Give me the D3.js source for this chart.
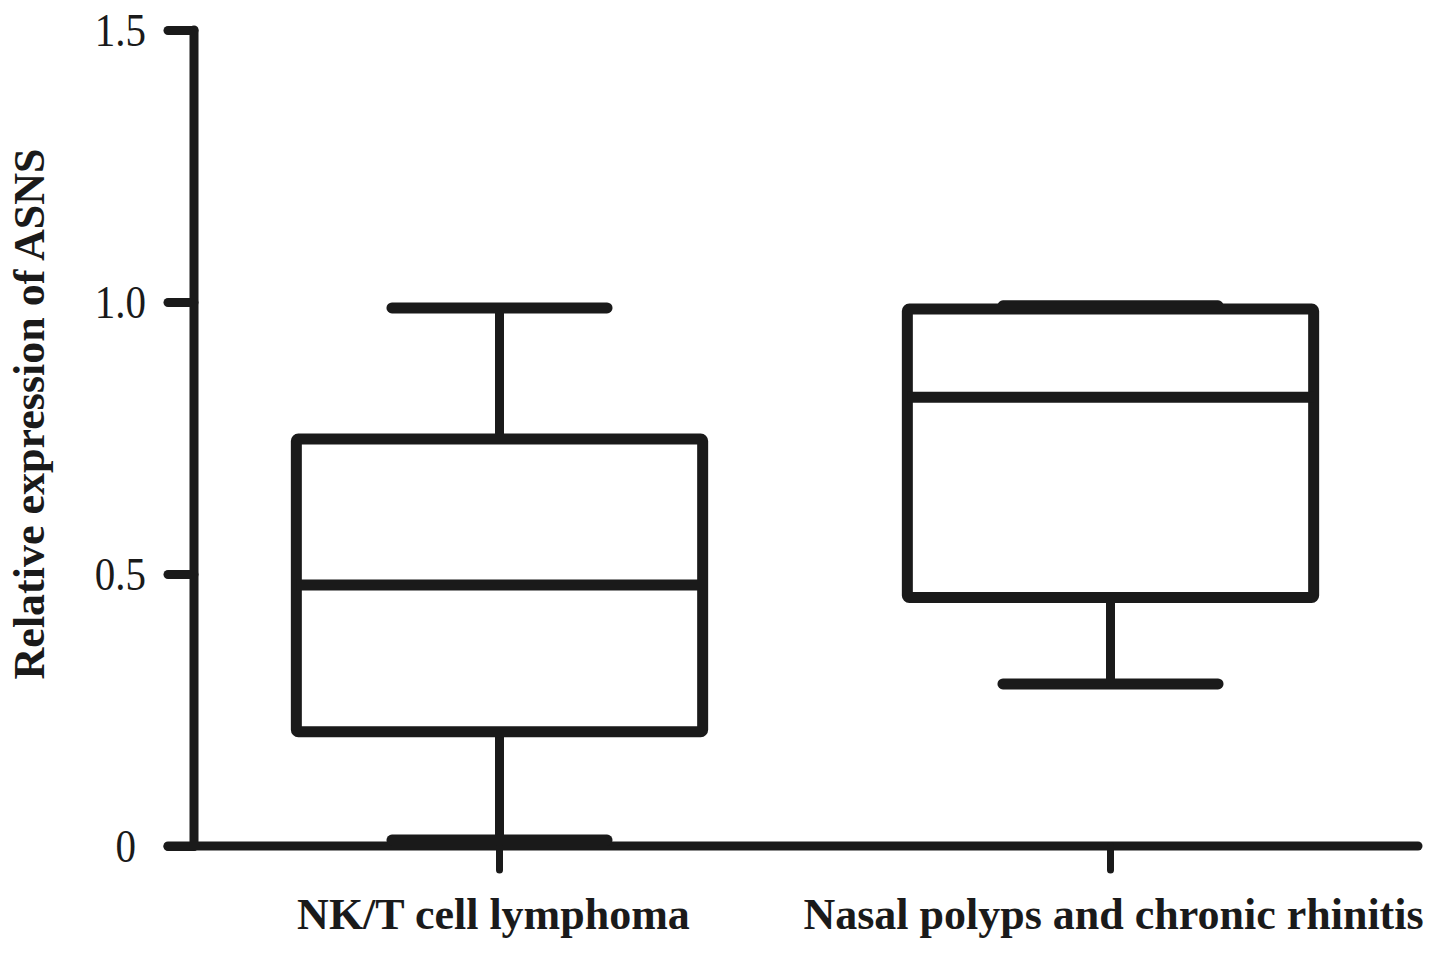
<!DOCTYPE html>
<html><head><meta charset="utf-8">
<script src="https://cdn.jsdelivr.net/npm/d3@7"></script>
<style>body{margin:0;background:#fff}svg{display:block}</style>
</head><body>
<svg id="chart" width="1441" height="953"></svg>
<script>
const categories = ["NK/T cell lymphoma", "Nasal polyps and chronic rhinitis"];
const mins    = [0.011, 0.298];
const q1s     = [0.210, 0.457];
const medians = [0.480, 0.825];
const q3s     = [0.748, 0.987];
const maxs    = [0.989, 0.993];
const yTicks  = [0, 0.5, 1.0, 1.5];
const yTickLabels = ["0", "0.5", "1.0", "1.5"];
const yTitle = "Relative expression of ASNS";

const data = categories.map((c, i) => ({c, min: mins[i], q1: q1s[i], med: medians[i], q3: q3s[i], max: maxs[i]}));

const svg = d3.select("#chart");
const ink = "#1a1a1a";
const axisX = 194, axisY0 = 846, axisTop = 30, axisRight = 1418;

const y = d3.scaleLinear().domain([0, 1.5]).range([axisY0, axisTop]);
const x = d3.scaleBand().domain(categories).range([axisX, 1416]).padding(0);
const bw = x.bandwidth();
const boxW = bw * 0.665;
const capW = bw * 0.352;

// Y axis
const yAxis = d3.axisLeft(y).tickValues(yTicks).tickSize(26).tickFormat((d, i) => yTickLabels[i]).tickPadding(0);
const gy = svg.append("g").attr("transform", `translate(${axisX},0)`).call(yAxis);
gy.select(".domain").remove();
gy.selectAll(".tick line").attr("stroke", ink).attr("stroke-width", 9).attr("stroke-linecap", "round");
gy.selectAll(".tick text").attr("x", d => d === 0 ? -58 : -48).attr("dy", "0.33em").attr("transform", "scale(1,1.13)")
  .attr("font-family", "'Liberation Serif', 'Times New Roman', serif").attr("font-size", 41).attr("fill", ink);
svg.append("line").attr("x1", axisX).attr("x2", axisX).attr("y1", y(1.5)).attr("y2", axisY0)
  .attr("stroke", ink).attr("stroke-width", 9).attr("stroke-linecap", "round");

// X axis
svg.append("line").attr("x1", axisX - 26).attr("x2", axisRight).attr("y1", axisY0).attr("y2", axisY0)
  .attr("stroke", ink).attr("stroke-width", 9).attr("stroke-linecap", "round");
const xAxis = d3.axisBottom(x).tickSize(24).tickPadding(0).tickFormat("");
const gx = svg.append("g").attr("transform", `translate(0,${axisY0})`).call(xAxis);
gx.select(".domain").remove();
gx.selectAll(".tick line").attr("stroke", ink).attr("stroke-width", 7).attr("stroke-linecap", "round");

const labelOffsets = [-6, 3];
svg.selectAll("text.xlab").data(categories).enter().append("text").attr("class", "xlab")
  .attr("x", (d, i) => x(d) + bw / 2 + labelOffsets[i]).attr("y", 929)
  .attr("text-anchor", "middle")
  .attr("font-family", "'Liberation Serif', 'Times New Roman', serif").attr("font-weight", "bold")
  .attr("font-size", 44).attr("fill", ink).text(d => d);

svg.append("text").attr("transform", `translate(44,414) rotate(-90)`)
  .attr("text-anchor", "middle")
  .attr("font-family", "'Liberation Serif', 'Times New Roman', serif").attr("font-weight", "bold")
  .attr("font-size", 44).attr("fill", ink).text(yTitle);

// Boxes
const g = svg.selectAll("g.box").data(data).enter().append("g").attr("class", "box");
const cx = d => x(d.c) + bw / 2;
const sw = 11;
// whiskers
g.append("line").attr("x1", cx).attr("x2", cx).attr("y1", d => y(d.max)).attr("y2", d => y(d.q3))
  .attr("stroke", ink).attr("stroke-width", 9);
g.append("line").attr("x1", cx).attr("x2", cx).attr("y1", d => y(d.q1)).attr("y2", d => y(d.min))
  .attr("stroke", ink).attr("stroke-width", 9);
// caps
g.append("line").attr("x1", d => cx(d) - capW / 2).attr("x2", d => cx(d) + capW / 2)
  .attr("y1", d => y(d.max)).attr("y2", d => y(d.max))
  .attr("stroke", ink).attr("stroke-width", sw).attr("stroke-linecap", "round");
g.append("line").attr("x1", d => cx(d) - capW / 2).attr("x2", d => cx(d) + capW / 2)
  .attr("y1", d => y(d.min)).attr("y2", d => y(d.min))
  .attr("stroke", ink).attr("stroke-width", sw).attr("stroke-linecap", "round");
// box
g.append("rect").attr("x", d => cx(d) - boxW / 2).attr("width", boxW)
  .attr("y", d => y(d.q3)).attr("height", d => y(d.q1) - y(d.q3))
  .attr("fill", "none").attr("stroke", ink).attr("stroke-width", sw).attr("rx", 2)
  .attr("stroke-linejoin", "round");
// median
g.append("line").attr("x1", d => cx(d) - boxW / 2).attr("x2", d => cx(d) + boxW / 2)
  .attr("y1", d => y(d.med)).attr("y2", d => y(d.med))
  .attr("stroke", ink).attr("stroke-width", sw);
</script>
</body></html>
